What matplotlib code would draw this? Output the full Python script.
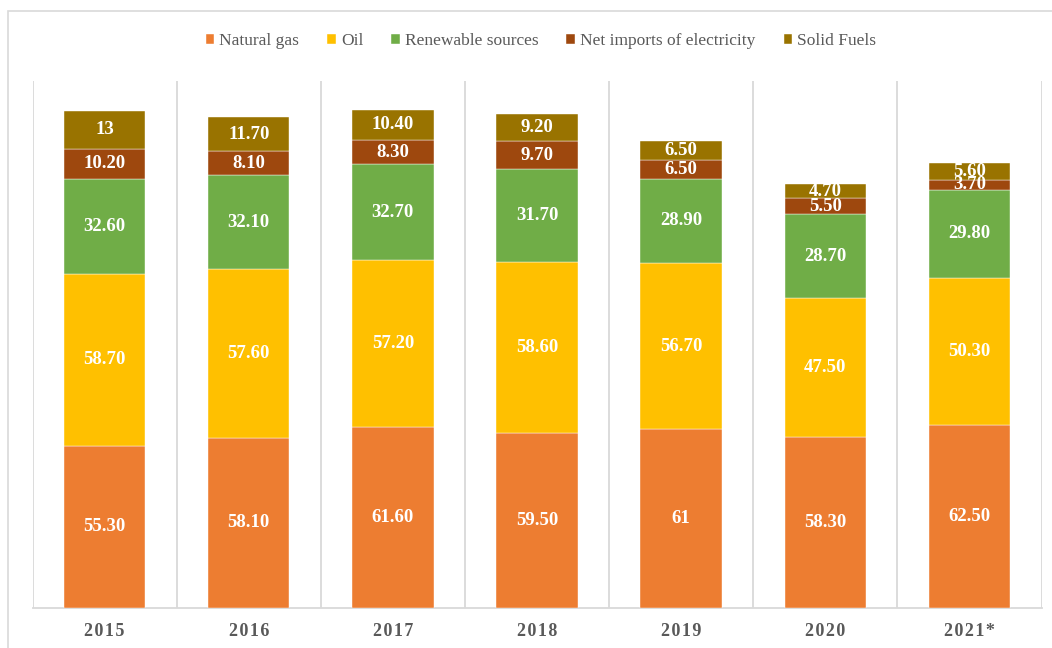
import matplotlib
matplotlib.use("Agg")
from matplotlib import pyplot as plt
from matplotlib.patches import Rectangle
import numpy as np

years = ["2015", "2016", "2017", "2018", "2019", "2020", "2021*"]
natural_gas = [55.3, 58.1, 61.6, 59.5, 61, 58.3, 62.5]
oil = [58.7, 57.6, 57.2, 58.6, 56.7, 47.5, 50.3]
renewable = [32.6, 32.1, 32.7, 31.7, 28.9, 28.7, 29.8]
net_imports = [10.2, 8.1, 8.3, 9.7, 6.5, 5.5, 3.7]
solid_fuels = [13, 11.7, 10.4, 9.2, 6.5, 4.7, 5.6]

series = [
    ("Natural gas", natural_gas, "#ED7D31"),
    ("Oil", oil, "#FFC000"),
    ("Renewable sources", renewable, "#70AD47"),
    ("Net imports of electricity", net_imports, "#9E480E"),
    ("Solid Fuels", solid_fuels, "#997300"),
]
FONT = ["Liberation Serif", "DejaVu Serif"]


def fmt(v):
    return f"{v:g}" if float(v).is_integer() else f"{v:.2f}"


fig = plt.figure(figsize=(10.52, 6.48), dpi=100)
fig.patches.append(Rectangle((8 / 1052, -0.1), 1.1, 1.1 - 11 / 648,
                             transform=fig.transFigure, fill=False,
                             edgecolor="#d9d9d9", linewidth=1.2))
ax = fig.add_axes([32.5 / 1052, 40.5 / 648, 1009 / 1052, 526.5 / 648])

x = np.arange(len(years))
bottom = np.zeros(len(years))
for name, vals, color in series:
    ax.bar(x, vals, width=0.565, bottom=bottom, color=color, label=name,
           edgecolor="white", linewidth=0.3, zorder=3)
    for xi, b, v in zip(x, bottom, vals):
        ax.text(xi, b + v / 2, fmt(v), ha="center", va="center", color="white",
                fontsize=13.5, fontweight="bold", family=FONT, zorder=4)
    bottom += np.array(vals)

ax.set_xlim(-0.5, len(years) - 0.5)
ax.set_ylim(0, 180)
ax.set_yticks([])
ax.set_xticks(x)
# letter-spaced year labels
ax.set_xticklabels(["\u200a".join(y) for y in years], fontsize=13,
                   fontweight="bold", color="#595959", family=FONT)
ax.tick_params(axis="x", length=0, pad=11)
ax.set_xticks(np.arange(-0.5, len(years)), minor=True)
ax.tick_params(axis="x", which="minor", length=0)
ax.grid(axis="x", which="minor", color="#d9d9d9", linewidth=1.3, zorder=0)
for s in ["top", "left", "right"]:
    ax.spines[s].set_visible(False)
ax.spines["bottom"].set_color("#d9d9d9")
ax.spines["bottom"].set_linewidth(1.3)

fig.legend(loc="center", bbox_to_anchor=(541 / 1052, 1 - 41 / 648), ncol=5,
           frameon=False, handlelength=0.5, handleheight=0.5, handletextpad=0.3,
           columnspacing=1.6, prop={"family": FONT, "size": 12.5},
           labelcolor="#595959")

plt.savefig("out.png", dpi=100)
